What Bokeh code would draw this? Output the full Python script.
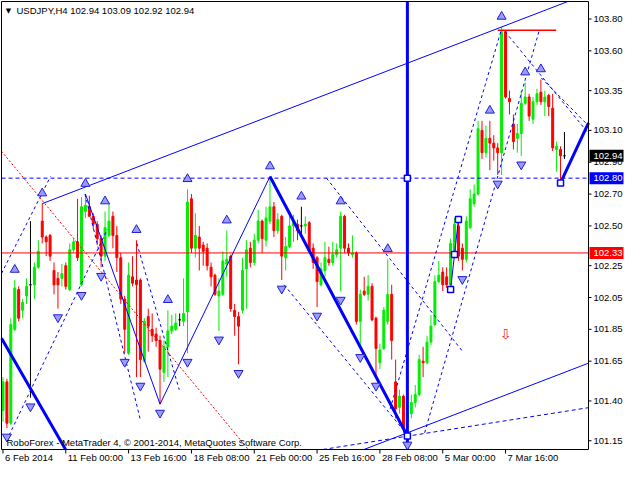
from bokeh.plotting import figure
from bokeh.models import Range1d
from bokeh.core.properties import value
from bokeh.embed import file_html
from bokeh.resources import INLINE

# ---- H4 candles (bar index 0 = 6 Feb 2014 08:00) ----
opens = [101.34, 101.52, 101.26, 101.85, 102.10, 101.97, 102.06, 102.13, 102.13, 102.24,
         102.53, 102.43, 102.44, 102.22, 102.17, 102.17, 102.25, 102.10, 102.35, 102.40,
         102.13, 102.59, 102.62, 102.56, 102.51, 102.42, 102.31, 102.44, 102.56, 102.44,
         102.30, 102.04, 101.70, 102.18, 102.16, 102.16, 101.65, 101.93, 101.85, 101.82,
         101.78, 101.58, 101.74, 101.84, 101.85, 101.91, 101.90, 101.96, 102.67, 102.36,
         102.43, 102.38, 102.36, 102.24, 102.19, 102.06, 102.07, 102.26, 102.31, 101.97,
         101.93, 101.97, 102.23, 102.36, 102.27, 102.41, 102.53, 102.41, 102.53, 102.62,
         102.47, 102.56, 102.30, 102.37, 102.50, 102.51, 102.50, 102.50, 102.52, 102.36,
         102.30, 102.13, 102.22, 102.29, 102.27, 102.32, 102.36, 102.56, 102.36, 102.32,
         102.33, 101.90, 102.09, 102.07, 102.12, 101.92, 101.64, 101.73, 101.90, 102.07,
         101.52, 101.36, 101.43, 101.27, 101.32, 101.39, 101.44, 101.65, 101.64, 101.77,
         101.88, 102.15, 102.21, 102.18, 102.13, 102.31, 102.50, 102.36, 102.29, 102.49,
         102.64, 102.70, 103.10, 102.96, 103.05, 103.02, 102.99, 102.96, 103.72, 103.30,
         103.14, 103.05, 103.08, 103.27, 103.31, 103.17, 103.28, 103.34, 103.28, 103.32,
         103.24, 102.98, 102.98, 102.94]
highs = [101.55, 101.54, 101.92, 102.16, 102.12, 102.04, 102.17, 102.53, 102.27, 102.41,
         102.64, 102.44, 102.45, 102.27, 102.21, 102.26, 102.27, 102.39, 102.42, 102.67,
         102.68, 102.70, 102.69, 102.58, 102.53, 102.44, 102.59, 102.64, 102.59, 102.50,
         102.33, 102.06, 102.27, 102.31, 102.41, 102.17, 101.92, 101.98, 101.95, 101.86,
         101.81, 101.78, 101.97, 101.94, 101.95, 101.95, 102.17, 102.73, 102.70, 102.58,
         102.50, 102.40, 102.39, 102.27, 102.20, 102.17, 102.34, 102.47, 102.32, 102.01,
         101.96, 102.30, 102.41, 102.40, 102.45, 102.60, 102.54, 102.62, 102.81, 102.65,
         102.58, 102.57, 102.43, 102.59, 102.57, 102.54, 102.62, 102.56, 102.53, 102.39,
         102.31, 102.27, 102.40, 102.37, 102.40, 102.39, 102.59, 102.57, 102.39, 102.44,
         102.34, 102.10, 102.18, 102.19, 102.14, 101.93, 101.76, 101.99, 102.29, 102.13,
         101.66, 101.47, 101.44, 101.37, 101.44, 101.50, 101.69, 101.74, 101.81, 101.94,
         102.19, 102.28, 102.24, 102.24, 102.42, 102.55, 102.54, 102.39, 102.56, 102.73,
         102.76, 103.16, 103.16, 103.13, 103.16, 103.07, 103.02, 103.75, 103.73, 103.35,
         103.20, 103.14, 103.35, 103.40, 103.33, 103.31, 103.36, 103.42, 103.35, 103.33,
         103.33, 103.03, 103.00, 103.09]
lows = [101.27, 101.23, 101.25, 101.84, 101.90, 101.92, 102.01, 101.42, 102.04, 102.23,
        102.39, 102.31, 102.28, 102.07, 101.98, 102.12, 102.10, 102.09, 102.33, 102.28,
        102.12, 102.55, 102.56, 102.48, 102.38, 102.24, 102.28, 102.43, 102.36, 102.21,
        102.01, 101.70, 101.69, 102.12, 101.55, 101.55, 101.64, 101.71, 101.77, 101.74,
        101.38, 101.52, 101.55, 101.82, 101.84, 101.87, 101.87, 101.70, 102.33, 102.30,
        102.22, 102.25, 102.22, 102.12, 102.06, 101.84, 102.06, 102.18, 101.96, 101.81,
        101.63, 101.95, 101.98, 102.24, 102.25, 102.39, 102.33, 102.37, 102.51, 102.43,
        102.45, 102.16, 102.22, 102.36, 102.40, 102.41, 102.45, 102.45, 102.34, 102.23,
        101.99, 102.12, 102.18, 102.25, 102.25, 102.30, 102.09, 102.33, 102.31, 102.30,
        101.88, 101.73, 102.06, 102.03, 101.90, 101.55, 101.60, 101.72, 101.88, 101.66,
        101.29, 101.32, 101.20, 101.18, 101.29, 101.36, 101.43, 101.55, 101.63, 101.75,
        101.87, 102.14, 102.09, 102.11, 102.12, 102.30, 102.28, 102.22, 102.27, 102.48,
        102.62, 102.69, 102.92, 102.93, 102.85, 102.91, 102.82, 102.82, 103.30, 103.20,
        102.98, 102.96, 102.94, 103.26, 103.16, 103.14, 103.26, 103.26, 103.19, 103.19,
        102.97, 102.84, 102.77, 102.92]
closes = [101.52, 101.26, 101.88, 102.11, 101.92, 102.02, 102.12, 102.13, 102.24, 102.34,
          102.43, 102.40, 102.31, 102.13, 102.13, 102.20, 102.12, 102.35, 102.40, 102.30,
          102.62, 102.63, 102.56, 102.51, 102.42, 102.31, 102.49, 102.53, 102.44, 102.30,
          102.04, 101.85, 102.19, 102.14, 102.13, 101.66, 101.90, 101.87, 101.81, 101.78,
          101.60, 101.74, 101.84, 101.87, 101.89, 101.91, 101.95, 102.65, 102.36, 102.44,
          102.36, 102.34, 102.25, 102.18, 102.07, 102.09, 102.28, 102.29, 101.98, 101.93,
          101.87, 102.22, 102.35, 102.27, 102.41, 102.53, 102.42, 102.55, 102.62, 102.47,
          102.54, 102.31, 102.37, 102.50, 102.52, 102.47, 102.50, 102.51, 102.34, 102.27,
          102.15, 102.23, 102.30, 102.27, 102.32, 102.35, 102.56, 102.36, 102.33, 102.33,
          101.90, 102.07, 102.07, 102.12, 101.91, 101.73, 101.72, 101.97, 102.07, 101.78,
          101.35, 101.43, 101.23, 101.34, 101.39, 101.44, 101.66, 101.64, 101.77, 101.87,
          102.15, 102.19, 102.13, 102.13, 102.39, 102.51, 102.31, 102.29, 102.53, 102.67,
          102.70, 103.11, 102.96, 103.05, 103.02, 102.99, 102.96, 103.72, 103.31, 103.28,
          103.03, 103.08, 103.27, 103.31, 103.19, 103.28, 103.33, 103.28, 103.31, 103.25,
          102.99, 103.00, 102.94, 102.94]

# time axis (bar index -> label)
x_tick_bars = [0, 16, 32, 48, 64, 80, 96, 112, 128]
x_tick_labels = ["6 Feb 2014", "11 Feb 00:00", "13 Feb 16:00", "18 Feb 08:00",
                 "21 Feb 00:00", "25 Feb 16:00", "28 Feb 08:00", "5 Mar 00:00", "7 Mar 16:00"]
price_ticks = [101.15, 101.40, 101.65, 101.85, 102.05, 102.25, 102.50,
               102.70, 102.90, 103.10, 103.35, 103.60, 103.80]

title_text = "USDJPY,H4  102.94 103.09 102.92 102.94"
copyright_text = "RoboForex - MetaTrader 4, \u00a9 2001-2014, MetaQuotes Software Corp."

# ---- analysis objects (bar, price) ----
level_dashed = 102.80
level_red = 102.33
level_last = 102.94
vline_bar = 103
channel_upper = [(10, 102.64), (127, 103.75)]
channel_lower_anchor = (103, 101.20)
fan_dashed = [(75, 101.07), (160, 101.40)]
wave_thin = [(21, 102.70), (40, 101.38), (68, 102.81)]
wave_thick = [[(-1, 101.82), (17, 101.05)],
              [(68, 102.81), (103, 101.18)],
              [(142, 102.77), (152, 103.30)]]
dashed_lines = [(-0.4, 102.20, 12.1, 102.81),
                (0.9, 101.15, 26.6, 102.48),
                (20.9, 102.70, 34.9, 101.29),
                (34.1, 102.39, 44.9, 101.47),
                (82.4, 102.80, 117.1, 101.71),
                (71.6, 102.13, 102.9, 101.19),
                (98.6, 101.35, 126.9, 103.73),
                (107.4, 101.20, 136.6, 103.73),
                (127.9, 103.72, 149.5, 103.07),
                (137.1, 103.43, 149.5, 103.12)]
red_dotted = (-0.4, 102.97, 64, 101.05)
red_top = (126, 103.73, 140.9, 103.73)
small_line = [(114, 102.10), (115, 102.32), (116, 102.54)]
anchor_squares = [(103, 102.80), (103, 101.18), (142, 102.77)]
fractal_up = [3, 10, 21, 26, 34, 42, 47, 57, 68, 76, 86, 98, 124, 127, 133, 137]
fractal_down = [1, 7, 14, 20, 25, 31, 35, 40, 47, 55, 60, 71, 80, 86, 91, 95, 103, 117, 126, 132]
sell_arrow = (128, 101.82)

# ---- layout / style ----
FONT = "Liberation Sans"
FS = "9.5px"
BLUE = "#0000ff"
RED = "#ff0000"
GREEN = "#00ee00"
W, H = 624, 464
PAD_L, PAD_T, PAD_R, PAD_B = 1, 1, 36, 15
X0, X1 = -0.375, 149.125      # chart box in bars
Y0, Y1 = 101.095, 103.910     # chart box in price
bx = (X1 - X0) / (W - PAD_L - PAD_R)   # bars per pixel
py = (Y1 - Y0) / (H - PAD_T - PAD_B)   # price per pixel

p = figure(width=W, height=H, output_backend="svg", toolbar_location=None,
           x_range=Range1d(X0 - PAD_L * bx, X1 + PAD_R * bx),
           y_range=Range1d(Y0 - PAD_B * py, Y1 + PAD_T * py),
           x_axis_location=None, y_axis_location=None, min_border=0,
           min_border_left=0, min_border_right=0, min_border_top=0, min_border_bottom=0)
p.outline_line_color = None
p.grid.visible = False
p.background_fill_color = "white"
p.border_fill_color = "white"


def clip(x0, y0, x1, y1):
    dx, dy = x1 - x0, y1 - y0
    t0, t1 = 0.0, 1.0
    for pp, q in ((-dx, x0 - X0), (dx, X1 - x0), (-dy, y0 - Y0), (dy, Y1 - y0)):
        if pp == 0:
            if q < 0:
                return None
        else:
            t = q / pp
            if pp < 0:
                t0 = max(t0, t)
            else:
                t1 = min(t1, t)
    if t0 > t1:
        return None
    return (x0 + t0 * dx, y0 + t0 * dy, x0 + t1 * dx, y0 + t1 * dy)


def draw_segments(segs, **kw):
    cs = [c for c in (clip(*s) for s in segs) if c is not None]
    p.segment(x0=[c[0] for c in cs], y0=[c[1] for c in cs],
              x1=[c[2] for c in cs], y1=[c[3] for c in cs], **kw)


# candles
xs = list(range(len(opens)))
colors = [GREEN if c > o else (RED if c < o else "black") for o, c in zip(opens, closes)]
tops = [max(o, c) for o, c in zip(opens, closes)]
bots = [min(o, c) for o, c in zip(opens, closes)]
p.segment(x0=xs, y0=highs, x1=xs, y1=lows, line_color=colors, line_width=1)
p.vbar(x=xs, width=0.5, top=tops, bottom=bots, fill_color=colors, line_color=colors, line_width=1)

# red objects
draw_segments([(X0, level_red, X1, level_red)], line_color=RED, line_width=1)
draw_segments([red_dotted], line_color=RED, line_width=1, line_dash="2 2")
draw_segments([red_top], line_color=RED, line_width=1.5)

# channel (upper through two highs, lower parallel through the low)
(cx0, cy0), (cx1, cy1) = channel_upper
slope = (cy1 - cy0) / (cx1 - cx0)
lx, ly = channel_lower_anchor
draw_segments([(cx0, cy0, 170, cy0 + slope * (170 - cx0)),
               (60, ly + slope * (60 - lx), 170, ly + slope * (170 - lx))],
              line_color=BLUE, line_width=1)
draw_segments([(fan_dashed[0][0], fan_dashed[0][1], fan_dashed[1][0], fan_dashed[1][1])],
              line_color=BLUE, line_width=1, line_dash="4 3")

# dashed lines and level
draw_segments(dashed_lines, line_color=BLUE, line_width=1, line_dash="3 3")
draw_segments([(X0, level_dashed, X1, level_dashed)], line_color=BLUE, line_width=1, line_dash="4 3")

# waves
p.line([q[0] for q in wave_thin], [q[1] for q in wave_thin], line_color=BLUE, line_width=1)
draw_segments([(s[0][0], s[0][1], s[1][0], s[1][1]) for s in wave_thick], line_color=BLUE, line_width=3)
draw_segments([(vline_bar, Y0, vline_bar, Y1)], line_color=BLUE, line_width=3)
p.line([q[0] for q in small_line], [q[1] for q in small_line], line_color=BLUE, line_width=1)

# fractals
p.scatter(fractal_up, [highs[b] + 0.065 for b in fractal_up], marker="triangle",
          size=9, fill_color="#9a9aff", line_color="#2020d0", line_width=1)
p.scatter(fractal_down, [lows[b] - 0.055 for b in fractal_down], marker="inverted_triangle",
          size=9, fill_color="#9a9aff", line_color="#2020d0", line_width=1)

# anchor squares
sq = anchor_squares + small_line
p.scatter([q[0] for q in sq], [q[1] for q in sq], marker="square", size=6,
          fill_color="white", line_color=BLUE, line_width=1.5)

# sell arrow
p.text(x=[sell_arrow[0]], y=[sell_arrow[1]], text=["\u21e9"], text_color="#ff2020",
       text_font=value("DejaVu Sans"), text_font_size="14px", text_align="center",
       text_baseline="middle")

# chart frame
p.quad(left=[X0], right=[X1], bottom=[Y0], top=[Y1], fill_color=None, line_color="black", line_width=1)

# title and copyright
p.text(x=[X0 + 7 * bx], y=[Y1 - 9 * py], text=["\u25bc"], text_font=value("DejaVu Sans"),
       text_font_size="7px", text_color="black", text_align="center", text_baseline="middle")
p.text(x=[X0 + 15 * bx], y=[Y1 - 9 * py], text=[title_text], text_font=value(FONT),
       text_font_size=FS, text_color="black", text_baseline="middle")
p.text(x=[X0 + 5 * bx], y=[Y0 + 7 * py], text=[copyright_text], text_font=value(FONT),
       text_font_size=FS, text_color="black", text_baseline="middle")

# time axis: ticks and left-aligned labels
p.segment(x0=x_tick_bars, y0=[Y0] * len(x_tick_bars), x1=x_tick_bars,
          y1=[Y0 - 4 * py] * len(x_tick_bars), line_color="black", line_width=1)
p.text(x=[b + 2 * bx for b in x_tick_bars], y=[Y0 - 8 * py] * len(x_tick_bars), text=x_tick_labels,
       text_font=value(FONT), text_font_size=FS, text_color="black",
       text_align="left", text_baseline="middle")

# price axis: ticks and labels
p.segment(x0=[X1] * len(price_ticks), y0=price_ticks, x1=[X1 + 3 * bx] * len(price_ticks),
          y1=price_ticks, line_color="black", line_width=1)
p.text(x=[X1 + 5 * bx] * len(price_ticks), y=price_ticks, text=[f"{v:.2f}" for v in price_ticks],
       text_font=value(FONT), text_font_size=FS, text_color="black",
       text_align="left", text_baseline="middle")

# price markers on the axis
marks = [level_last, level_dashed, level_red]
mark_bg = ["black", BLUE, RED]
p.quad(left=[X1 + 1 * bx] * 3, right=[X1 + 35 * bx] * 3,
       bottom=[v - 6 * py for v in marks], top=[v + 6 * py for v in marks],
       fill_color=mark_bg, line_color=None)
p.text(x=[X1 + 5 * bx] * 3, y=marks, text=[f"{v:.2f}" for v in marks],
       text_font=value(FONT), text_font_size=FS, text_color="white",
       text_align="left", text_baseline="middle")

open("out.html", "w").write(file_html(p, INLINE))
